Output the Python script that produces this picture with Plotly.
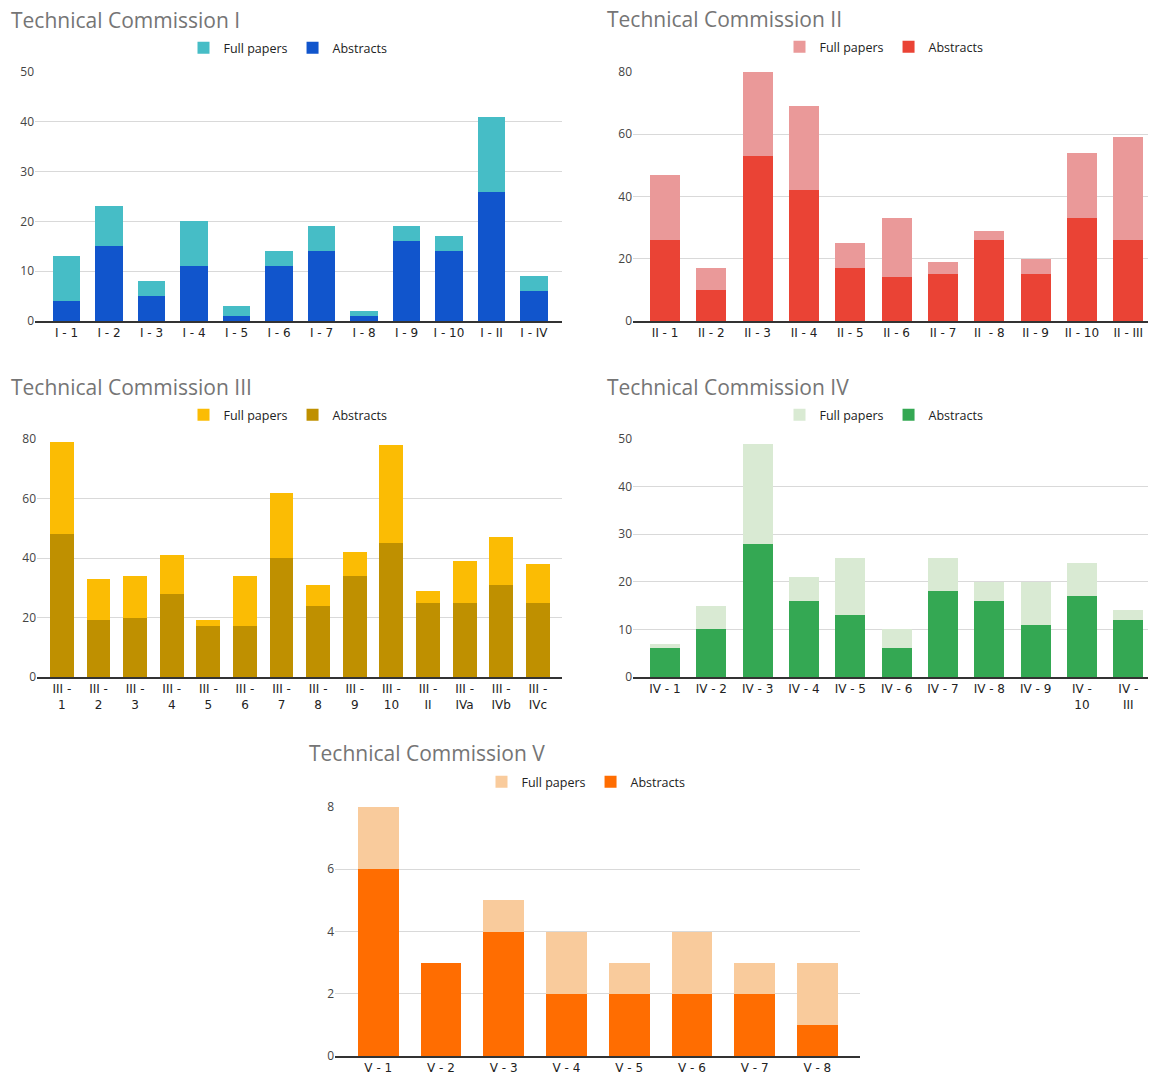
import plotly.graph_objects as go

W, H = 1156, 1072
OFF = 8  # page body margin

# ---------------- data ----------------
cats_1 = ["I - 1", "I - 2", "I - 3", "I - 4", "I - 5", "I - 6", "I - 7", "I - 8", "I - 9", "I - 10", "I - II", "I - IV"]
abstracts_1 = [4, 15, 5, 11, 1, 11, 14, 1, 16, 14, 26, 6]
full_1 = [9, 8, 3, 9, 2, 3, 5, 1, 3, 3, 15, 3]

cats_2 = ["II - 1", "II - 2", "II - 3", "II - 4", "II - 5", "II - 6", "II - 7", "II  - 8", "II - 9", "II - 10", "II - III"]
abstracts_2 = [26, 10, 53, 42, 17, 14, 15, 26, 15, 33, 26]
full_2 = [21, 7, 27, 27, 8, 19, 4, 3, 5, 21, 33]

cats_3 = ["III -<br>1", "III -<br>2", "III -<br>3", "III -<br>4", "III -<br>5", "III -<br>6", "III -<br>7",
          "III -<br>8", "III -<br>9", "III -<br>10", "III -<br>II", "III -<br>IVa", "III -<br>IVb", "III -<br>IVc"]
abstracts_3 = [48, 19, 20, 28, 17, 17, 40, 24, 34, 45, 25, 25, 31, 25]
full_3 = [31, 14, 14, 13, 2, 17, 22, 7, 8, 33, 4, 14, 16, 13]

cats_4 = ["IV - 1", "IV - 2", "IV - 3", "IV - 4", "IV - 5", "IV - 6", "IV - 7", "IV - 8", "IV - 9", "IV -<br>10", "IV -<br>III"]
abstracts_4 = [6, 10, 28, 16, 13, 6, 18, 16, 11, 17, 12]
full_4 = [1, 5, 21, 5, 12, 4, 7, 4, 9, 7, 2]

cats_5 = ["V - 1", "V - 2", "V - 3", "V - 4", "V - 5", "V - 6", "V - 7", "V - 8"]
abstracts_5 = [6, 3, 4, 2, 2, 2, 2, 1]
full_5 = [2, 0, 1, 2, 1, 2, 1, 2]

titles = ["Technical Commission I", "Technical Commission II", "Technical Commission III",
          "Technical Commission IV", "Technical Commission V"]

# ---------------- styling ----------------
panels = [
    dict(cats=cats_1, ab=abstracts_1, fu=full_1, cf="#46bdc6", ca="#1155cc",
         xpx=(35, 562), ypx=(321, 72), yr=50, dt=10, cr=(-0.74, 11.66), tpos=(9, 20), lpos=(288, 48)),
    dict(cats=cats_2, ab=abstracts_2, fu=full_2, cf="#ea9999", ca="#ea4335",
         xpx=(633, 1164), ypx=(321, 72), yr=80, dt=20, cr=(-0.69, 10.77), tpos=(605, 19), lpos=(884, 47)),
    dict(cats=cats_3, ab=abstracts_3, fu=full_3, cf="#fbbc04", ca="#bf9000",
         xpx=(37, 562), ypx=(677, 439), yr=80, dt=20, cr=(-0.68, 13.66), tpos=(9, 387), lpos=(288, 415)),
    dict(cats=cats_4, ab=abstracts_4, fu=full_4, cf="#d9ead3", ca="#34a853",
         xpx=(633, 1164), ypx=(677, 439), yr=50, dt=10, cr=(-0.69, 10.77), tpos=(605, 387), lpos=(884, 415)),
    dict(cats=cats_5, ab=abstracts_5, fu=full_5, cf="#f9cb9c", ca="#ff6d01",
         xpx=(335, 860), ypx=(1056, 807), yr=8, dt=2, cr=(-0.69, 7.68), tpos=(307, 753), lpos=(586, 782)),
]


def fx(px):
    return (px - OFF) / W


def fy(py):
    return 1 - (py - OFF) / H


FONT = "Open Sans"
fig = go.Figure()
layout = dict(width=W, height=H, margin=dict(l=0, r=0, t=0, b=0, pad=0, autoexpand=False),
              paper_bgcolor="white", plot_bgcolor="white", barmode="stack",
              bargap=0.35, showlegend=True, annotations=[])

for i, p in enumerate(panels, start=1):
    sfx = "" if i == 1 else str(i)
    leg = "legend" if i == 1 else f"legend{i}"
    fig.add_trace(go.Bar(x=p["cats"], y=p["ab"], name="Abstracts", marker=dict(color=p["ca"], line=dict(width=0)),
                         xaxis="x" + sfx, yaxis="y" + sfx, legend=leg))
    fig.add_trace(go.Bar(x=p["cats"], y=p["fu"], name="Full papers", marker=dict(color=p["cf"], line=dict(width=0)),
                         xaxis="x" + sfx, yaxis="y" + sfx, legend=leg))
    layout["xaxis" + sfx] = dict(domain=[max(0, fx(p["xpx"][0])), min(1, fx(p["xpx"][1]))], anchor="y" + sfx,
                                 range=list(p["cr"]), showgrid=False, showline=True, linecolor="#333333",
                                 linewidth=1.5, ticks="", tickangle=0, automargin=False,
                                 tickfont=dict(family="DejaVu Sans", size=12, color="#222222"),
                                 fixedrange=True)
    layout["yaxis" + sfx] = dict(domain=[fy(p["ypx"][0]), fy(p["ypx"][1])], anchor="x" + sfx,
                                 range=[0, p["yr"]], dtick=p["dt"], showgrid=True, gridcolor="#d9d9d9",
                                 gridwidth=1, zeroline=False, showline=False, ticks="", automargin=False,
                                 tickfont=dict(family=FONT, size=12, color="#444444"), fixedrange=True)
    layout[leg] = dict(orientation="h", x=fx(p["lpos"][0]), y=fy(p["lpos"][1]), xanchor="center",
                       yanchor="middle", traceorder="reversed", font=dict(family=FONT, size=12.5, color="#222222"),
                       bgcolor="rgba(0,0,0,0)", itemwidth=30)
    layout["annotations"].append(dict(text=titles[i - 1], xref="paper", yref="paper",
                                      x=fx(p["tpos"][0]), y=fy(p["tpos"][1]), xanchor="left",
                                      yanchor="middle", showarrow=False,
                                      font=dict(family=FONT, size=21, color="#757575")))

fig.update_layout(**layout)
fig.write_html("out.html")
